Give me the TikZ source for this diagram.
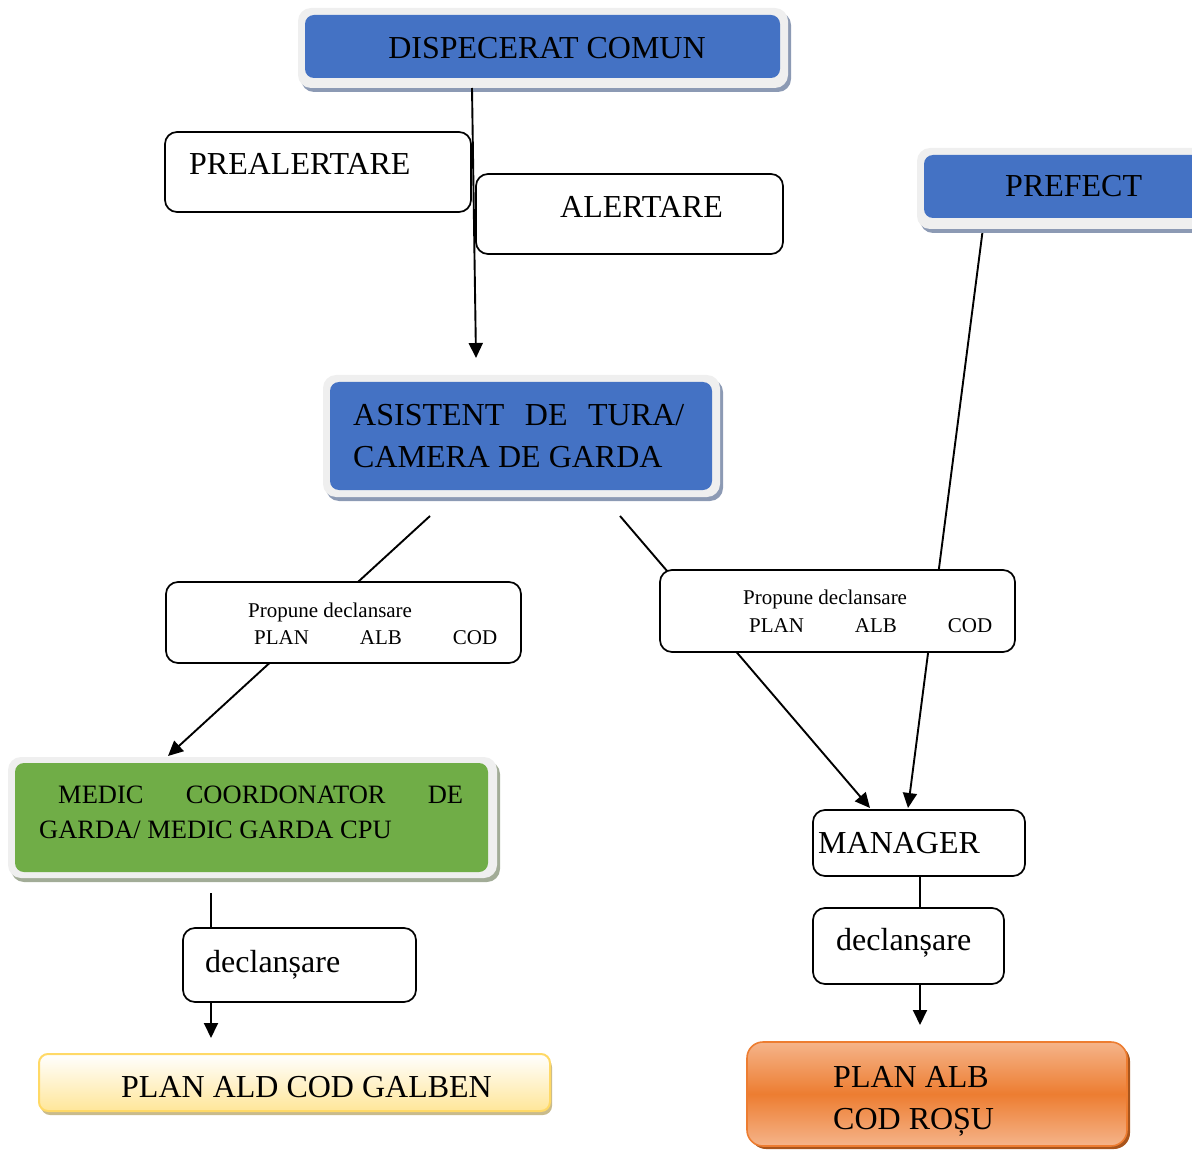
\documentclass[tikz,border=0pt]{standalone}
\usepackage{fontspec}
\setmainfont{Liberation Serif}
\usetikzlibrary{arrows.meta,shadows}

\definecolor{boxblue}{HTML}{4472C4}
\definecolor{boxgreen}{HTML}{70AD47}
\definecolor{glow}{HTML}{EFEFEF}
\definecolor{blueshade}{HTML}{8C9AB4}
\definecolor{greenshade}{HTML}{A2AC97}
\definecolor{orangedark}{HTML}{ED7D31}
\definecolor{orangelight}{HTML}{F5B48A}
\definecolor{orangeshade}{HTML}{A9551C}
\definecolor{yellowfill}{HTML}{FFE699}
\definecolor{yellowedge}{HTML}{FFD966}
\definecolor{yellowshade}{HTML}{C9BB8C}

\newcommand\bigtxt{\fontsize{32}{38}\selectfont}
\newcommand\medtxt{\fontsize{26.5}{32}\selectfont}
\newcommand\smalltxt{\fontsize{21}{25}\selectfont}

\tikzset{
  plainbox/.style={draw=black, line width=1.7pt, rounded corners=12pt, fill=white, inner sep=0pt},
  glowbox/.style={fill=glow, rounded corners=13pt, inner sep=0pt,
    drop shadow={shadow xshift=3pt, shadow yshift=-4pt, fill=#1, opacity=1}},
  glowbox/.default=blueshade,
  innerbox/.style={fill=#1, rounded corners=9pt, inner sep=0pt},
  lbl/.style={anchor=base west, inner sep=0pt},
  link/.style={line width=1.9pt},
  flow/.style={line width=1.9pt, -{Triangle[length=15pt,width=14pt]}},
}

\begin{document}
\begin{tikzpicture}[x=1pt, y=-1pt]
\useasboundingbox (0,0) rectangle (1192,1150);
\clip (0,0) rectangle (1192,1150);

% free ends of the connectors
\coordinate (dispfoot) at (472,88);
\coordinate (asisttop) at (476,358);
\coordinate (asistleft) at (430,516);
\coordinate (asistright) at (620,516);
\coordinate (prefectfoot) at (983,228);
\coordinate (medicfoot) at (211,893);
\coordinate (leftarrowend) at (211,1038);
\coordinate (rightarrowend) at (920,1025);

% the long diagonals run behind the proposal boxes
\coordinate (greentip) at (168,756);
\coordinate (managertipA) at (870,808);
\coordinate (managertipB) at (908,808);
\draw[flow] (asistleft) -- (greentip);
\draw[flow] (asistright) -- (managertipA);
\draw[flow] (prefectfoot) -- (managertipB);

% DISPECERAT COMUN
\node[glowbox, minimum width=490pt, minimum height=80pt] (dispglow) at (543,48) {};
\node[innerbox=boxblue, minimum width=475pt, minimum height=63pt] (disp) at (542.5,46.5) {};
\node[lbl, anchor=base, font=\bigtxt] (disptext) at (547,59) {DISPECERAT COMUN};

% PREALERTARE / ALERTARE
\node[plainbox, minimum width=306pt, minimum height=80pt] (prealert) at (318,172) {};
\node[lbl, font=\bigtxt] (prealerttext) at (189,175) {PREALERTARE};
\node[plainbox, minimum width=307pt, minimum height=80pt] (alert) at (629.5,214) {};
\node[lbl, font=\bigtxt] (alerttext) at (560,218) {ALERTARE};

\draw[flow] (dispfoot) -- (asisttop);

% PREFECT
\node[glowbox, minimum width=293pt, minimum height=81pt] (prefectglow) at (1063.5,188.5) {};
\node[innerbox=boxblue, minimum width=286pt, minimum height=63pt] (prefect) at (1067,186.5) {};
\node[lbl, font=\bigtxt] (prefecttext) at (1005,197) {PREFECT};

% ASISTENT DE TURA / CAMERA DE GARDA
\node[glowbox, minimum width=397pt, minimum height=122pt] (asistglow) at (521.5,436) {};
\node[innerbox=boxblue, minimum width=382pt, minimum height=108pt] (asist) at (521,436) {};
\node[lbl, font=\bigtxt] (asistA) at (353,425) {\makebox[331pt][s]{ASISTENT\hfill DE\hfill TURA/}};
\node[lbl, font=\bigtxt] (asistB) at (353,467) {CAMERA DE GARDA};

% proposal boxes
\node[plainbox, minimum width=355pt, minimum height=81pt] (propL) at (343.5,622.5) {};
\node[lbl, font=\smalltxt] (propLa) at (248,617) {Propune declansare};
\node[lbl, font=\smalltxt] (propLb) at (254,644) {\makebox[243pt][s]{PLAN\hfill ALB\hfill COD}};

\node[plainbox, minimum width=355pt, minimum height=82pt] (propR) at (837.5,611) {};
\node[lbl, font=\smalltxt] (propRa) at (743,604) {Propune declansare};
\node[lbl, font=\smalltxt] (propRb) at (749,632) {\makebox[243pt][s]{PLAN\hfill ALB\hfill COD}};

% MEDIC COORDONATOR
\node[glowbox=greenshade, minimum width=489pt, minimum height=121pt] (medicglow) at (252.5,817.5) {};
\node[innerbox=boxgreen, minimum width=473pt, minimum height=109pt] (medic) at (251.5,817.5) {};
\node[lbl, font=\medtxt] (medicA) at (58,803) {\makebox[405pt][s]{MEDIC\hfill COORDONATOR\hfill DE}};
\node[lbl, font=\medtxt] (medicB) at (39,838) {GARDA/ MEDIC GARDA CPU};

% left branch: declansare -> PLAN ALD COD GALBEN
\node[plainbox, minimum width=233pt, minimum height=74pt] (declL) at (299.5,965) {};
\node[lbl, font=\bigtxt] (declLtext) at (205,972) {declanșare};
\draw[link] (medicfoot) -- (medicfoot |- declL.north);
\draw[flow] (declL.south -| medicfoot) -- (leftarrowend);

\node[draw=yellowedge, line width=2pt, rounded corners=9pt, top color=white, bottom color=yellowfill,
      minimum width=511pt, minimum height=57pt, inner sep=0pt,
      drop shadow={shadow xshift=2pt, shadow yshift=-4pt, fill=yellowshade, opacity=1}]
      (galben) at (294.5,1082.5) {};
\node[lbl, font=\bigtxt] (galbentext) at (121,1097) {PLAN ALD COD GALBEN};

% right branch: MANAGER -> declansare -> PLAN ALB COD ROSU
\node[plainbox, minimum width=212pt, minimum height=66pt] (manager) at (919,843) {};
\node[lbl, font=\bigtxt] (managertext) at (818,853) {MANAGER};
\node[plainbox, minimum width=191pt, minimum height=76pt] (declR) at (908.5,946) {};
\node[lbl, font=\bigtxt] (declRtext) at (836,950) {declanșare};
\draw[link] (manager.south -| rightarrowend) -- (declR.north -| rightarrowend);
\draw[flow] (declR.south -| rightarrowend) -- (rightarrowend);

\node[draw=orangedark, line width=1.6pt, rounded corners=16pt,
      top color=orangelight, bottom color=orangelight, middle color=orangedark,
      minimum width=380pt, minimum height=104pt, inner sep=0pt,
      drop shadow={shadow xshift=3pt, shadow yshift=-3pt, fill=orangeshade, opacity=1}]
      (rosu) at (937,1094) {};
\node[lbl, font=\bigtxt] (rosuA) at (833,1087) {PLAN ALB};
\node[lbl, font=\bigtxt] (rosuB) at (833,1129) {COD ROȘU};
\end{tikzpicture}
\end{document}
